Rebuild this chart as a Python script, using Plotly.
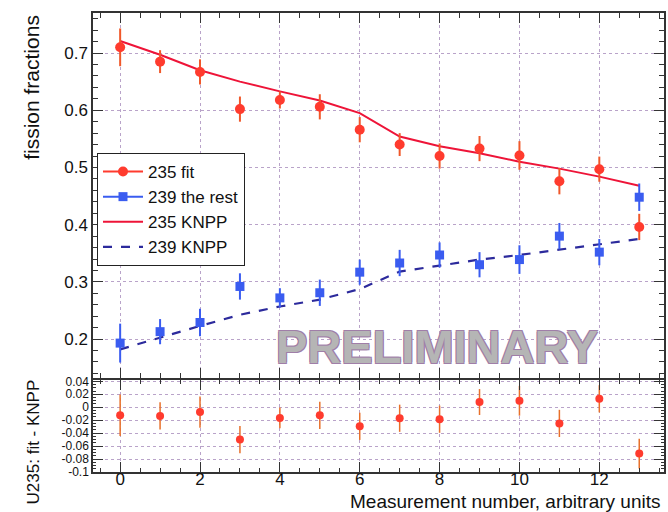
import plotly.graph_objects as go

# ---------------- data ----------------
x_meas = [0, 1, 2, 3, 4, 5, 6, 7, 8, 9, 10, 11, 12, 13]
u235_fit = [0.710, 0.685, 0.667, 0.602, 0.618, 0.606, 0.566, 0.540, 0.520, 0.533, 0.521, 0.476, 0.497, 0.396]
u235_fit_err = [0.033, 0.020, 0.022, 0.022, 0.015, 0.022, 0.022, 0.020, 0.022, 0.022, 0.025, 0.023, 0.022, 0.023]
u239_rest = [0.193, 0.213, 0.229, 0.292, 0.272, 0.281, 0.317, 0.333, 0.347, 0.330, 0.339, 0.380, 0.352, 0.448]
u239_rest_err = [0.034, 0.022, 0.024, 0.023, 0.017, 0.023, 0.022, 0.023, 0.022, 0.022, 0.025, 0.023, 0.023, 0.024]
knpp_235 = [0.721, 0.697, 0.670, 0.650, 0.633, 0.617, 0.595, 0.554, 0.537, 0.525, 0.510, 0.498, 0.484, 0.468]
knpp_239 = [0.182, 0.203, 0.223, 0.2425, 0.257, 0.269, 0.2875, 0.318, 0.329, 0.339, 0.347, 0.356, 0.365, 0.375]
diff_235 = [-0.0125, -0.0135, -0.0075, -0.050, -0.0165, -0.0125, -0.0295, -0.017, -0.0185, 0.008, 0.010, -0.025, 0.013, -0.0715]
diff_235_err = [0.032, 0.021, 0.024, 0.021, 0.016, 0.021, 0.021, 0.021, 0.021, 0.020, 0.023, 0.021, 0.021, 0.023]

x_tick_vals = [0, 2, 4, 6, 8, 10, 12]
x_tick_text = ["0", "2", "4", "6", "8", "10", "12"]
top_tick_vals = [0.2, 0.3, 0.4, 0.5, 0.6, 0.7]
top_tick_text = ["0.2", "0.3", "0.4", "0.5", "0.6", "0.7"]
bot_tick_vals = [0.04, 0.02, 0.0, -0.02, -0.04, -0.06, -0.08, -0.1]
bot_tick_text = ["0.04", "0.02", "0", "-0.02", "-0.04", "-0.06", "-0.08", "-0.1"]

legend_names = ["235 fit", "239 the rest", "235 KNPP", "239 KNPP"]

RED = "#ff3b2e"
RED_ERR = "#f0582a"
BLUE = "#3a5cf0"
LINE_RED = "#ee1438"
NAVY = "#2c2a9c"
GRID = "#b9a3c9"
FRAME = "#333333"
FONT = "Liberation Sans, Arial, sans-serif"

fig = go.Figure()

# top panel data
fig.add_trace(go.Scatter(
    x=x_meas, y=knpp_235, mode="lines", line=dict(color=LINE_RED, width=2),
    xaxis="x", yaxis="y", showlegend=False))
fig.add_trace(go.Scatter(
    x=x_meas, y=knpp_239, mode="lines", line=dict(color=NAVY, width=2.2, dash="dash"),
    xaxis="x", yaxis="y", showlegend=False))
fig.add_trace(go.Scatter(
    x=x_meas, y=u235_fit, mode="markers",
    marker=dict(color=RED, size=10, symbol="circle"),
    error_y=dict(type="data", array=u235_fit_err, color=RED_ERR, thickness=2, width=0),
    xaxis="x", yaxis="y", showlegend=False))
fig.add_trace(go.Scatter(
    x=x_meas, y=u239_rest, mode="markers",
    marker=dict(color=BLUE, size=9, symbol="square"),
    error_y=dict(type="data", array=u239_rest_err, color=BLUE, thickness=2, width=0),
    xaxis="x", yaxis="y", showlegend=False))

# bottom panel
fig.add_trace(go.Scatter(
    x=x_meas, y=diff_235, mode="markers",
    marker=dict(color=RED, size=8, symbol="circle"),
    error_y=dict(type="data", array=diff_235_err, color="#e8702a", thickness=1.5, width=0),
    xaxis="x2", yaxis="y2", showlegend=False))

# legend entries
leg_styles = [
    dict(mode="lines+markers", line=dict(color=RED, width=2), marker=dict(color=RED, size=10, symbol="circle")),
    dict(mode="lines+markers", line=dict(color=BLUE, width=2), marker=dict(color=BLUE, size=9, symbol="square")),
    dict(mode="lines", line=dict(color=LINE_RED, width=2)),
    dict(mode="lines", line=dict(color=NAVY, width=2.2, dash="dash")),
]
for i, (name, st) in enumerate(zip(legend_names, leg_styles)):
    fig.add_trace(go.Scatter(x=[None], y=[None], name=name, legendgroup=f"g{i}",
                             xaxis="x", yaxis="y", **st))

axis_common = dict(
    showline=True, linecolor=FRAME, linewidth=1.5, mirror="allticks",
    ticks="inside", tickcolor=FRAME, ticklen=10, tickwidth=1,
    showgrid=True, gridcolor=GRID, griddash="dot", gridwidth=1,
    zeroline=False,
)

fig.update_layout(
    width=668, height=512,
    paper_bgcolor="white", plot_bgcolor="white",
    margin=dict(l=93, r=2, t=13, b=40),
    font=dict(family=FONT, color="#111111"),
    xaxis=dict(domain=[0, 1], anchor="y", range=[-0.68, 13.62],
               tickvals=x_tick_vals, ticktext=x_tick_text, showticklabels=False,
               minor=dict(dtick=0.5, tick0=0, ticks="inside", ticklen=5, tickcolor=FRAME, showgrid=False),
               **axis_common),
    yaxis=dict(domain=[0.2048, 1], anchor="x", range=[0.132, 0.770],
               tickvals=top_tick_vals, ticktext=top_tick_text,
               tickfont=dict(size=17, family=FONT),
               minor=dict(dtick=0.02, tick0=0, ticks="inside", ticklen=5, tickcolor=FRAME, showgrid=False),
               **axis_common),
    xaxis2=dict(domain=[0, 1], anchor="y2", range=[-0.68, 13.62], matches="x",
                tickvals=x_tick_vals, ticktext=x_tick_text,
                tickfont=dict(size=17, family=FONT), ticklabelstandoff=-9,
                minor=dict(dtick=0.5, tick0=0, ticks="inside", ticklen=4, tickcolor=FRAME, showgrid=False),
                **axis_common),
    yaxis2=dict(domain=[0, 0.2004], anchor="x2", range=[-0.1, 0.042],
                tickvals=bot_tick_vals, ticktext=bot_tick_text,
                tickfont=dict(size=12, family=FONT),
                minor=dict(dtick=0.005, tick0=0, ticks="inside", ticklen=3, tickcolor=FRAME, showgrid=False),
                **axis_common),
    legend=dict(x=0.007, y=0.695, xanchor="left", yanchor="top",
                bgcolor="white", bordercolor="#222222", borderwidth=1,
                font=dict(size=17, family=FONT, color="#111111"),
                itemwidth=40, tracegroupgap=6, traceorder="normal"),
)

fig.add_annotation(
    text="PRELIMINARY", x=7.93, y=0.1865, xref="x", yref="y",
    showarrow=False, xanchor="center", yanchor="middle",
    font=dict(size=47, family=FONT, color="#b5b5b5", weight="bold",
              shadow="1px 1px 0 #a07ea8, -1px -1px 0 #a07ea8, 1px -1px 0 #a07ea8, -1px 1px 0 #a07ea8"))

fig.add_annotation(
    text="fission fractions", x=-0.108, y=1.0, xref="paper", yref="paper",
    textangle=-90, showarrow=False, xanchor="center", yanchor="top",
    font=dict(size=21, family=FONT, color="#111111"))

fig.add_annotation(
    text="U235: fit - KNPP", x=-0.105, y=-0.076, xref="paper", yref="paper",
    textangle=-90, showarrow=False, xanchor="center", yanchor="bottom",
    font=dict(size=17, family=FONT, color="#111111"))

fig.add_annotation(
    text="Measurement number, arbitrary units", x=0.997, y=-0.064, xref="paper", yref="paper",
    showarrow=False, xanchor="right", yanchor="middle",
    font=dict(size=19, family=FONT, color="#111111"))

fig.write_html("out.html", config={"displayModeBar": False},
               post_script="document.body.style.margin='0';")
